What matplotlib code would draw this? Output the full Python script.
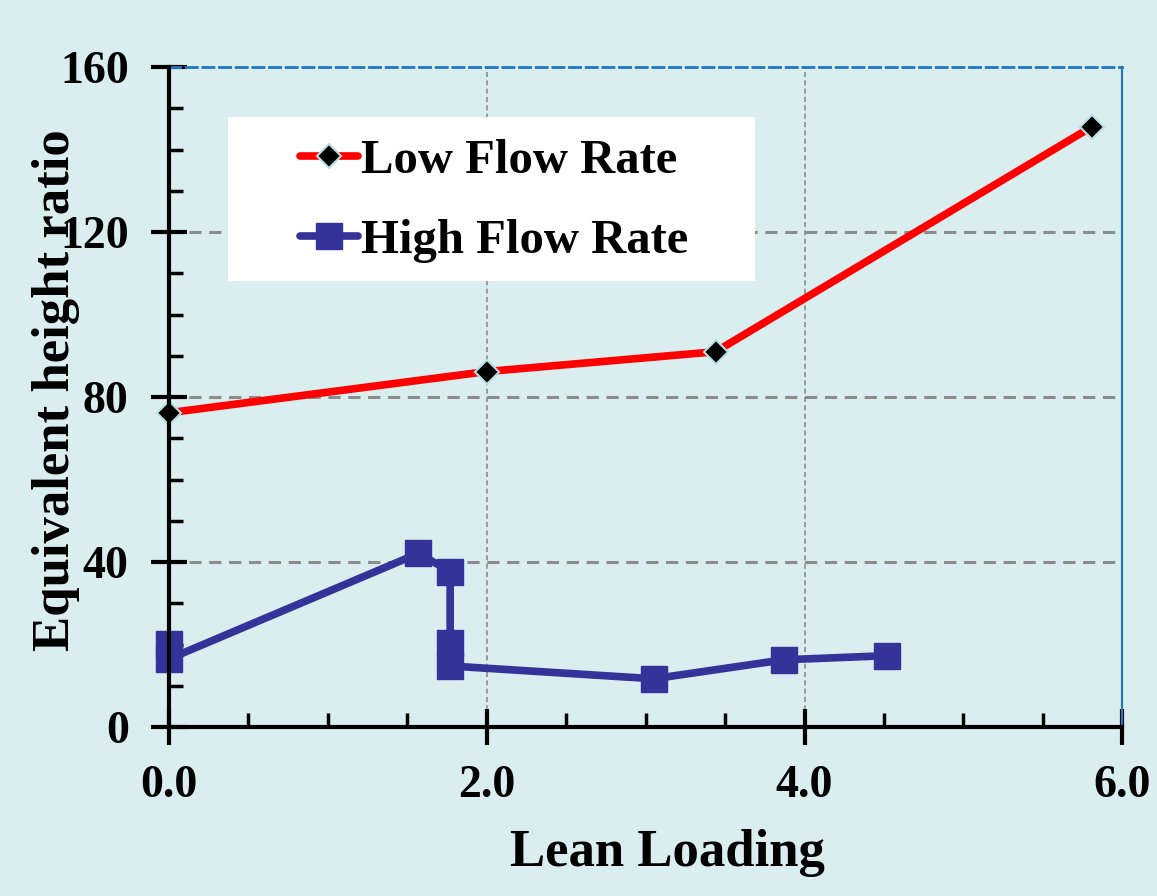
import numpy as np
import matplotlib.pyplot as plt
from matplotlib.ticker import MultipleLocator
from matplotlib.patches import Rectangle

# data
low_x = [0.0, 2.0, 3.44, 5.81]
low_y = [76.2, 86.2, 91.0, 145.6]
high_x = [0.0, 0.0, 1.57, 1.77, 1.77, 1.77, 3.05, 3.87, 4.52]
high_y = [20.2, 16.5, 42.1, 37.7, 20.4, 14.8, 11.7, 16.3, 17.3]
xticks = [0, 2, 4, 6]
xticklabels = ['0.0', '2.0', '4.0', '6.0']
yticks = [0, 40, 80, 120, 160]

bg = '#daedef'
plt.rcParams['font.family'] = ['Liberation Serif', 'DejaVu Serif']
plt.rcParams['font.weight'] = 'bold'

fig = plt.figure(figsize=(11.57, 8.96), dpi=100, facecolor=bg)
ax = fig.add_axes([0.146, 0.1886, 0.824, 0.7364], facecolor=bg)

# grid
for yv in [40, 80, 120]:
    ax.axhline(yv, color='#8c8c8c', lw=2.2, ls=(0, (4, 2.5)), zorder=1)
for xv in [2, 4]:
    ax.axvline(xv, color='#8c8c8c', lw=1.2, ls=(0, (3, 2)), zorder=1)

ax.plot(low_x, low_y, color='#ff0000', lw=5.5, marker='D', markersize=12,
        markerfacecolor='black', markeredgecolor='#b8dfe3', markeredgewidth=1.5,
        label='Low Flow Rate', zorder=3, solid_capstyle='round', clip_on=False)
ax.plot(high_x, high_y, color='#333399', lw=5.5, marker='s', markersize=19,
        markerfacecolor='#333399', markeredgecolor='#333399',
        label='High Flow Rate', zorder=3, solid_capstyle='round', clip_on=False)

ax.set_xlim(0, 6)
ax.set_ylim(0, 160)
ax.set_xticks(xticks)
ax.set_xticklabels(xticklabels)
ax.set_yticks(yticks)
ax.xaxis.set_minor_locator(MultipleLocator(0.5))
ax.yaxis.set_minor_locator(MultipleLocator(10))

ax.tick_params(axis='x', which='major', direction='inout', length=26, width=3,
               labelsize=33, pad=14)
ax.tick_params(axis='x', which='minor', direction='in', length=10, width=2.5)
ax.tick_params(axis='y', which='major', direction='inout', length=26, width=3,
               labelsize=33, pad=16)
ax.tick_params(axis='y', which='minor', direction='in', length=10, width=2.5)

for lab in ax.get_xticklabels() + ax.get_yticklabels():
    lab.set_fontweight('bold')

ax.spines['left'].set_linewidth(3)
ax.spines['bottom'].set_linewidth(3)
ax.spines['right'].set_color('#1f77c4')
ax.spines['right'].set_linewidth(1.5)
ax.spines['top'].set_color('#1f77c4')
ax.spines['top'].set_linewidth(2)
ax.spines['top'].set_linestyle((0, (4, 2)))
for s in ['left', 'bottom']:
    ax.spines[s].set_zorder(4)

ax.set_xlabel('Lean Loading', fontsize=38, fontweight='bold')
ax.set_ylabel('Equivalent height ratio', fontsize=38, fontweight='bold')
ax.xaxis.set_label_coords(0.5226, -0.155)
ax.yaxis.set_label_coords(-0.093, 0.51)

# white legend box
ax.add_patch(Rectangle((0.062, 0.676), 0.553, 0.248, transform=ax.transAxes,
                       facecolor='white', edgecolor='none', zorder=5))
leg = ax.legend(loc='center left', bbox_to_anchor=(0.1375, 0.797), fontsize=35,
                frameon=False, handlelength=1.2, handletextpad=0.05,
                borderpad=0, labelspacing=0.75, borderaxespad=0)
leg.set_zorder(6)
for t in leg.get_texts():
    t.set_fontweight('bold')

fig.savefig('out.png', dpi=100, facecolor=bg)
